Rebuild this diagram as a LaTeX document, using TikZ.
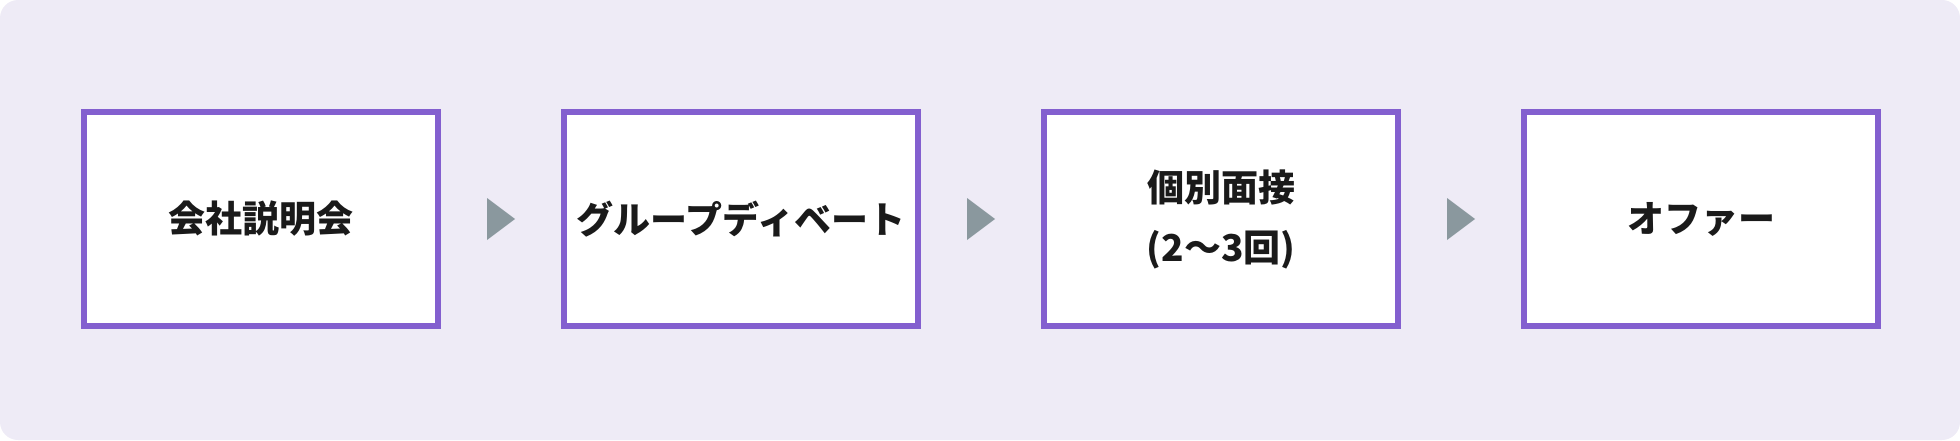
\documentclass[tikz,border=0pt]{standalone}
\usepackage{fontspec}
\setmainfont{Noto Sans CJK JP}
\usetikzlibrary{calc}
\definecolor{bgpurple}{HTML}{EEEBF6}
\definecolor{boxpurple}{HTML}{835FCF}
\definecolor{trigray}{HTML}{8A989E}
\definecolor{textblack}{HTML}{1A1A1A}
\tikzset{
  flowbox/.style = {draw=boxpurple, fill=white, line width=3pt,
                    minimum width=177pt, minimum height=107pt,
                    inner sep=0pt, align=center, text=textblack,
                    font=\fontsize{18.5}{30}\selectfont\bfseries},
  tri/.style = {fill=trigray}
}

\begin{document}
\begin{tikzpicture}[x=0.5pt, y=0.5pt]
	\def \W{1960}
	\def \H{440}
	\def \pitch{480}
	\def \yc{221}

	% Background
	\fill[bgpurple, rounded corners=9pt] (0,0) rectangle (\W,\H);
	\useasboundingbox (0,0) rectangle (\W,\H);

	% Steps
	\node[flowbox] (briefing) at (261,\yc) {会社説明会};
	\node[flowbox] (debate)   at (261+\pitch,\yc) {グループディベート};
	\node[flowbox] (interview) at (261+2*\pitch,\yc) {個別面接\\(2～3回)};
	\node[flowbox] (offer)    at (261+3*\pitch,\yc) {オファー};

	% Arrows
	\fill[tri] ($(briefing.east)!0.5!(debate.west)$) ++(-14,21) -- ++(28,-21) -- ++(-28,-21) -- cycle;
	\fill[tri] ($(debate.east)!0.5!(interview.west)$) ++(-14,21) -- ++(28,-21) -- ++(-28,-21) -- cycle;
	\fill[tri] ($(interview.east)!0.5!(offer.west)$) ++(-14,21) -- ++(28,-21) -- ++(-28,-21) -- cycle;

\end{tikzpicture}
\end{document}
